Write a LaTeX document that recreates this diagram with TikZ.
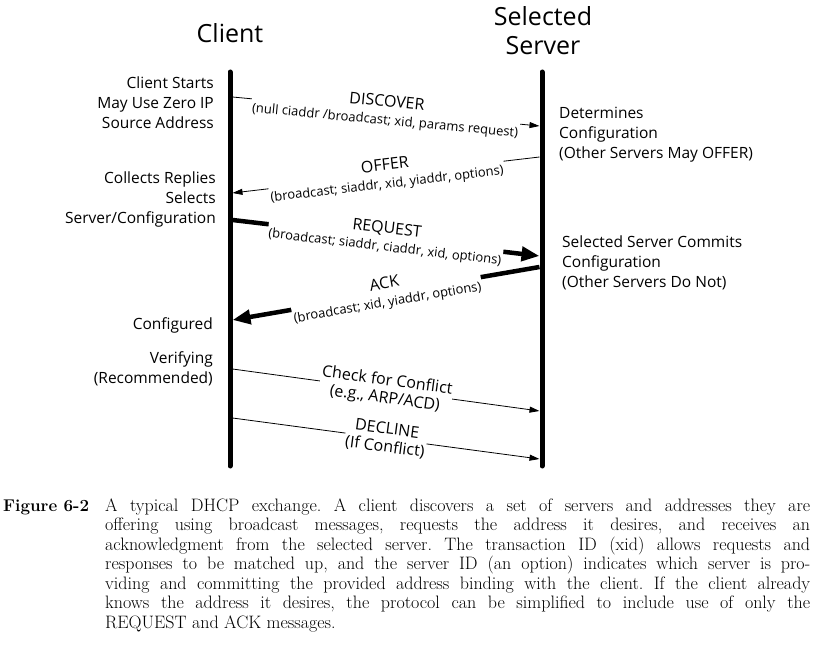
\documentclass[tikz,border=0pt]{standalone}
\usepackage{fontspec}
\setsansfont{Open Sans}
\usetikzlibrary{arrows.meta}
\begin{document}
\begin{tikzpicture}[x=1pt,y=-1pt,
  lifeline/.style={line width=5pt, line cap=round},
  title/.style={font=\sffamily\fontsize{25}{29}\selectfont, align=center, inner sep=0pt},
  note/.style={font=\sffamily\fontsize{15.5}{20}\selectfont, inner sep=0pt},
  msg/.style={line width=0.8pt, -{Triangle[length=10pt,width=6pt]}},
  bigmsg/.style={line width=4.5pt, -{Triangle[length=18pt,width=14pt]}},
  lab/.style={sloped, fill=white, inner sep=1pt, align=center, font=\sffamily\fontsize{16}{17}\selectfont},
]
\useasboundingbox (0,0) rectangle (817,655);
% titles
\node[title] (tc) at (230,33) {Client};
\node[title] (ts) at (543,31) {Selected\\Server};
% lifelines
\coordinate (c1) at (230,72); \coordinate (c2) at (230,466);
\coordinate (s1) at (542,72); \coordinate (s2) at (542,466);
\draw[lifeline] (c1) -- (c2);
\draw[lifeline] (s1) -- (s2);
% side notes
\node[note, align=right, anchor=east] (n1) at (214,103) {Client Starts\\May Use Zero IP\\Source Address};
\node[note, align=right, anchor=east] (n2) at (216,199) {Collects Replies\\Selects\\Server/Configuration};
\node[note, anchor=east] (n3) at (213,325) {Configured};
\node[note, align=right, anchor=east] (n4) at (213,369) {Verifying\\(Recommended)};
\node[note, align=left, anchor=west] (n5) at (559,135) {Determines\\Configuration\\(Other Servers May OFFER)};
\node[note, align=left, anchor=west] (n6) at (562,263) {Selected Server Commits\\Configuration\\(Other Servers Do Not)};
% messages
\coordinate (d1) at (232.5,97); \coordinate (d2) at (539.5,126);
\draw[msg] (d1) -- node[lab]{DISCOVER\\[1pt]{\fontsize{13}{14}\selectfont (null ciaddr /broadcast; xid, params request)}} (d2);
\coordinate (o1) at (539.5,157); \coordinate (o2) at (232.5,193);
\draw[msg] (o1) -- node[lab]{OFFER\\[1pt]{\fontsize{13}{14}\selectfont (broadcast; siaddr, xid, yiaddr, options)}} (o2);
\coordinate (r1) at (232.5,220); \coordinate (r2) at (539.5,256);
\draw[bigmsg] (r1) -- node[lab]{REQUEST\\[1pt]{\fontsize{13}{14}\selectfont (broadcast; siaddr, ciaddr, xid, options)}} (r2);
\coordinate (a1) at (539.5,267); \coordinate (a2) at (232.5,320);
\draw[bigmsg] (a1) -- node[lab]{ACK\\[1pt]{\fontsize{13}{14}\selectfont (broadcast; xid, yiaddr, options)}} (a2);
\coordinate (k1) at (232.5,369); \coordinate (k2) at (539.5,411);
\draw[msg] (k1) -- node[lab, font=\sffamily\fontsize{16}{18}\selectfont]{Check for Conflict\\(e.g., ARP/ACD)} (k2);
\coordinate (e1) at (232.5,418); \coordinate (e2) at (539.5,459);
\draw[msg] (e1) -- node[lab, font=\sffamily\fontsize{16}{18}\selectfont]{DECLINE\\(If Conflict)} (e2);
% caption
\node[anchor=base west, inner sep=0pt, font=\bfseries\fontsize{17}{19.5}\selectfont] (fig) at (3,511) {Figure 6-2};
\node[anchor=base west, inner sep=0pt] (cap) at (105,511) {\parbox[t]{705pt}{\frenchspacing\fontsize{18}{19.5}\selectfont A typical DHCP exchange. A client discovers a set of servers and addresses they are\linebreak offering using broadcast messages, requests the address it desires, and receives an\linebreak acknowledgment from the selected server. The transaction ID (xid) allows requests and\linebreak responses to be matched up, and the server ID (an option) indicates which server is pro-\linebreak viding and committing the provided address binding with the client. If the client already\linebreak knows the address it desires, the protocol can be simplified to include use of only the\linebreak REQUEST and ACK messages.}};
\end{tikzpicture}
\end{document}
